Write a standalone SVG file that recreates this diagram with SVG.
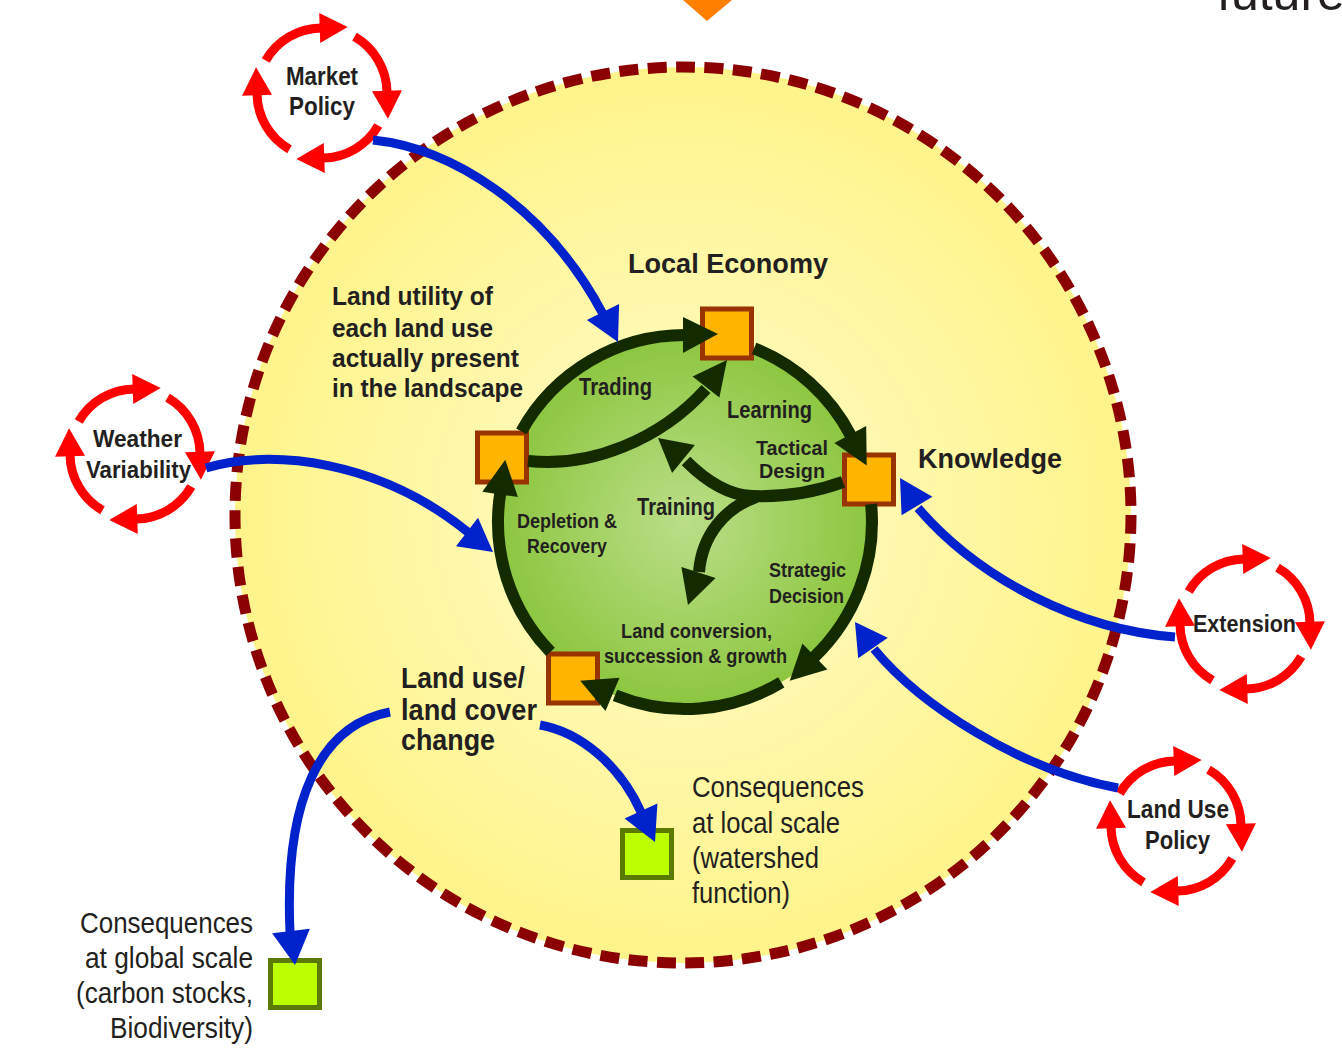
<svg xmlns="http://www.w3.org/2000/svg" xmlns:xlink="http://www.w3.org/1999/xlink" width="1342" height="1049" viewBox="0 0 1342 1049">
<style>
.b{font-family:"Liberation Sans",Arial,sans-serif;font-weight:bold;fill:#231F20}
.r{font-family:"Liberation Sans",Arial,sans-serif;fill:#231F20}
.ring{fill:none;stroke:#142B00;stroke-width:12}
.dk{fill:#142B00}
.blue{fill:none;stroke:#0022CC;stroke-width:9}
.bh{fill:#0022CC}
.sq{fill:#FFB400;stroke:#993300;stroke-width:5}
.gsq{fill:#BBFF00;stroke:#5A7A00;stroke-width:5}
</style>
<defs>
<radialGradient id="yel" cx="683" cy="515" r="448" gradientUnits="userSpaceOnUse">
<stop offset="0" stop-color="#FFFCCB"/>
<stop offset="1" stop-color="#FFF48A"/>
</radialGradient>
<radialGradient id="grn" cx="685" cy="522" r="187" gradientUnits="userSpaceOnUse">
<stop offset="0" stop-color="#BADF88"/>
<stop offset="1" stop-color="#8CC63F"/>
</radialGradient>
<g id="cycSeg">
<path d="M -56.29 -32.5 A 65 65 0 0 1 -1.13 -64.99" fill="none" stroke="#FF0000" stroke-width="9"/>
<polygon points="-2.79,-79.95 25.71,-65.94 -1.75,-49.97" fill="#FF0000"/>
</g>
<g id="cycle">
<use href="#cycSeg"/>
<use href="#cycSeg" transform="rotate(90)"/>
<use href="#cycSeg" transform="rotate(180)"/>
<use href="#cycSeg" transform="rotate(270)"/>
</g>
</defs>
<rect width="1342" height="1049" fill="#FFFFFF"/>

<g id="background">
<polygon points="683,0 732,0 707,21" fill="#FF7F00"/>
<text class="r" x="1217" y="10" font-size="50">future</text>
<circle cx="683" cy="515" r="448" fill="url(#yel)" stroke="#8B0000" stroke-width="11" stroke-dasharray="19 9.43"/>
<circle cx="685" cy="522" r="187" fill="url(#grn)"/>
</g>

<g id="labels">
<text class="b" x="628" y="273" font-size="28" textLength="200" lengthAdjust="spacingAndGlyphs">Local Economy</text>
<text class="b" x="918" y="468" font-size="28" textLength="144" lengthAdjust="spacingAndGlyphs">Knowledge</text>
<text class="b" font-size="25.5">
<tspan x="332" y="305" textLength="161" lengthAdjust="spacingAndGlyphs">Land utility of</tspan>
<tspan x="332" y="337" textLength="161" lengthAdjust="spacingAndGlyphs">each land use</tspan>
<tspan x="332" y="367" textLength="187" lengthAdjust="spacingAndGlyphs">actually present</tspan>
<tspan x="332" y="397" textLength="191" lengthAdjust="spacingAndGlyphs">in the landscape</tspan>
</text>
<text class="b" font-size="29.5">
<tspan x="401" y="688" textLength="124" lengthAdjust="spacingAndGlyphs">Land use/</tspan>
<tspan x="401" y="720" textLength="136" lengthAdjust="spacingAndGlyphs">land cover</tspan>
<tspan x="401" y="750" textLength="94" lengthAdjust="spacingAndGlyphs">change</tspan>
</text>
<text class="b" x="579" y="395" font-size="23" textLength="73" lengthAdjust="spacingAndGlyphs">Trading</text>
<text class="b" x="727" y="418" font-size="23" textLength="85" lengthAdjust="spacingAndGlyphs">Learning</text>
<text class="b" x="756" y="455" font-size="21" textLength="72" lengthAdjust="spacingAndGlyphs">Tactical</text>
<text class="b" x="759" y="478" font-size="21" textLength="66" lengthAdjust="spacingAndGlyphs">Design</text>
<text class="b" x="637" y="515" font-size="23" textLength="78" lengthAdjust="spacingAndGlyphs">Training</text>
<text class="b" x="517" y="528" font-size="21" textLength="100" lengthAdjust="spacingAndGlyphs">Depletion &amp;</text>
<text class="b" x="527" y="553" font-size="21" textLength="80" lengthAdjust="spacingAndGlyphs">Recovery</text>
<text class="b" x="769" y="577" font-size="21" textLength="77" lengthAdjust="spacingAndGlyphs">Strategic</text>
<text class="b" x="769" y="603" font-size="21" textLength="75" lengthAdjust="spacingAndGlyphs">Decision</text>
<text class="b" x="621" y="638" font-size="19.5" textLength="151" lengthAdjust="spacingAndGlyphs">Land conversion,</text>
<text class="b" x="604" y="663" font-size="19.5" textLength="183" lengthAdjust="spacingAndGlyphs">succession &amp; growth</text>
</g>

<g id="node-local-economy"><rect class="sq" x="702.5" y="309" width="49" height="49"/></g>
<g id="node-knowledge"><rect class="sq" x="844.5" y="455" width="49" height="49"/></g>
<g id="node-land-utility"><rect class="sq" x="477.5" y="433" width="49" height="49"/></g>
<g id="node-land-use"><rect class="sq" x="548.5" y="654" width="49" height="49"/></g>

<g id="node-local-consequences">
<rect class="gsq" x="622.5" y="830.5" width="49" height="47"/>
<text class="r" font-size="29">
<tspan x="692" y="797" textLength="172" lengthAdjust="spacingAndGlyphs">Consequences</tspan>
<tspan x="692" y="833" textLength="148" lengthAdjust="spacingAndGlyphs">at local scale</tspan>
<tspan x="692" y="868" textLength="127" lengthAdjust="spacingAndGlyphs">(watershed</tspan>
<tspan x="692" y="903" textLength="98" lengthAdjust="spacingAndGlyphs">function)</tspan>
</text>
</g>
<g id="node-global-consequences">
<rect class="gsq" x="270.5" y="960.5" width="49" height="47"/>
<text class="r" font-size="29">
<tspan x="80" y="933" textLength="173" lengthAdjust="spacingAndGlyphs">Consequences</tspan>
<tspan x="85" y="968" textLength="168" lengthAdjust="spacingAndGlyphs">at global scale</tspan>
<tspan x="76" y="1003" textLength="177" lengthAdjust="spacingAndGlyphs">(carbon stocks,</tspan>
<tspan x="110" y="1038" textLength="143" lengthAdjust="spacingAndGlyphs">Biodiversity)</tspan>
</text>
</g>

<g id="node-market-policy">
<use href="#cycle" transform="translate(322,93)"/>
<text class="b" x="286" y="85" font-size="25" textLength="72" lengthAdjust="spacingAndGlyphs">Market</text>
<text class="b" x="289" y="115" font-size="25" textLength="66" lengthAdjust="spacingAndGlyphs">Policy</text>
</g>
<g id="node-weather">
<use href="#cycle" transform="translate(135,454)"/>
<text class="b" x="93" y="447" font-size="24" textLength="89" lengthAdjust="spacingAndGlyphs">Weather</text>
<text class="b" x="86" y="478" font-size="24" textLength="105" lengthAdjust="spacingAndGlyphs">Variability</text>
</g>
<g id="node-extension">
<use href="#cycle" transform="translate(1245,624)"/>
<text class="b" x="1193" y="632" font-size="24" textLength="103" lengthAdjust="spacingAndGlyphs">Extension</text>
</g>
<g id="node-land-use-policy">
<use href="#cycle" transform="translate(1176,826)"/>
<text class="b" x="1127" y="818" font-size="26" textLength="102" lengthAdjust="spacingAndGlyphs">Land Use</text>
<text class="b" x="1145" y="849" font-size="26" textLength="65" lengthAdjust="spacingAndGlyphs">Policy</text>
</g>

<g id="connectors">
<path class="ring" d="M 521.4 431.3 A 187 187 0 0 1 686 335"/>
<polygon class="dk" points="683,317 718,334 683,353"/>
<path class="ring" d="M 754.1 348.3 A 187 187 0 0 1 850.9 435.7"/>
<polygon class="dk" points="866.2,426.1 866.7,465.4 834.4,442.9"/>
<path class="ring" d="M 871.1 504.1 A 187 187 0 0 1 813.7 657.6"/>
<polygon class="dk" points="827.4,669.4 789.7,680.8 802.4,643.6"/>
<path class="ring" d="M 781.3 682.3 A 187 187 0 0 1 615.0 695.4"/>
<polygon class="dk" points="605.5,711 580.2,680.8 619.5,677.8"/>
<path class="ring" d="M 550.5 651.9 A 187 187 0 0 1 500.3 492.8"/>
<polygon class="dk" points="482.3,491.7 505.3,459.8 517.9,497.1"/>
<path class="ring" d="M 528 461 C 590 468, 660 440, 706 389"/>
<polygon class="dk" points="719.4,397.4 727,360 692.6,376.6"/>
<path class="ring" d="M 843 482 C 810 494, 780 497, 752 496 C 725 495, 703 478, 686 461"/>
<polygon class="dk" points="694.9,445.1 658,438 672.1,472.9"/>
<path class="ring" d="M 756 497 C 725 508, 702 535, 699 572"/>
<polygon class="dk" points="715.6,578 688,605 681.4,567"/>

<path class="blue" d="M 373 140 C 450 148, 545 205, 603 314"/>
<polygon class="bh" points="619.1,304 618,342 586.9,320"/>
<path class="blue" d="M 206 468 C 270 448, 380 460, 469 533"/>
<polygon class="bh" points="478,517.7 493,552 456,546.3"/>
<path class="blue" d="M 1175 637 C 1080 630, 980 580, 918 508"/>
<polygon class="bh" points="932.4,496.7 900,478 901.6,515.3"/>
<path class="blue" d="M 1118 788 C 1020 770, 920 705, 874 649"/>
<polygon class="bh" points="887.8,637.8 855,622 858.2,658.2"/>
<path class="blue" d="M 390 712 C 320 725, 284 800, 290 932"/>
<polygon class="bh" points="309.9,928.8 295,965 272.1,933.2"/>
<path class="blue" d="M 540 725 C 580 732, 620 765, 641 812"/>
<polygon class="bh" points="657.4,803.6 655,842 624.6,818.4"/>
</g>
</svg>
